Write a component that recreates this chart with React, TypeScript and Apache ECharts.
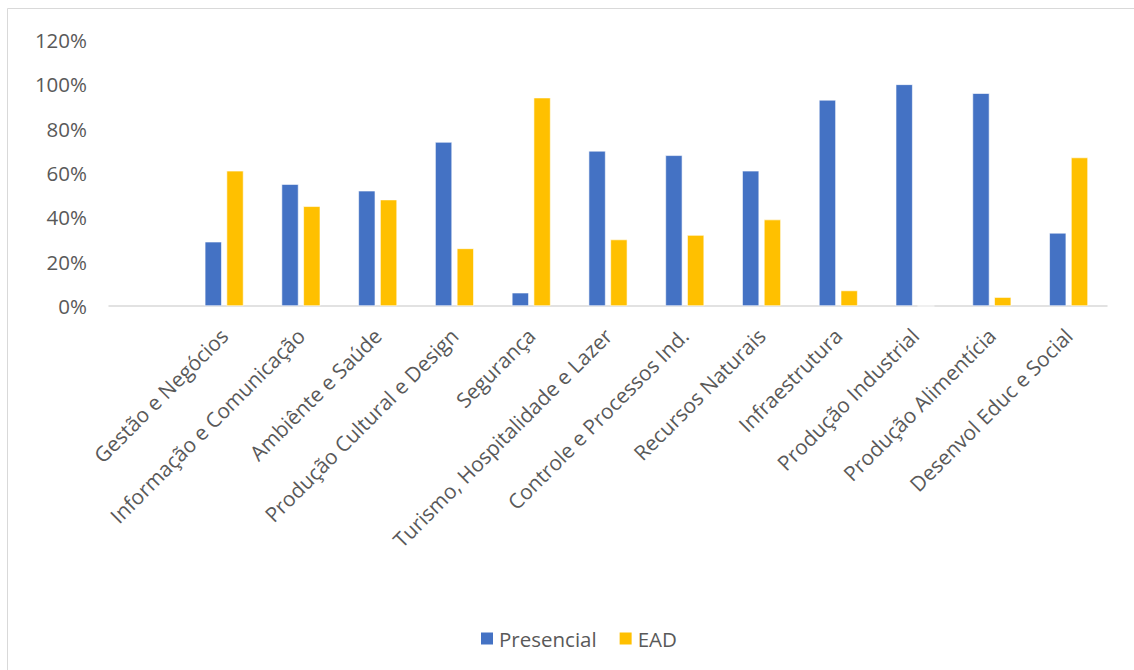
import React, { useEffect, useRef } from "react";
import * as echarts from "echarts";

const categories = [
  "",
  "Gestão e Negócios",
  "Informação e Comunicação",
  "Ambiênte e Saúde",
  "Produção Cultural e Design",
  "Segurança",
  "Turismo, Hospitalidade e Lazer",
  "Controle e Processos Ind.",
  "Recursos Naturais",
  "Infraestrutura",
  "Produção Industrial",
  "Produção Alimentícia",
  "Desenvol Educ e Social",
];

const presencial = [null, 0.29, 0.55, 0.52, 0.74, 0.06, 0.7, 0.68, 0.61, 0.93, 1.0, 0.96, 0.33];
const ead = [null, 0.61, 0.45, 0.48, 0.26, 0.94, 0.3, 0.32, 0.39, 0.07, 0, 0.04, 0.67];

const FONT = "'Open Sans', 'DejaVu Sans', sans-serif";
const TEXT = "#595959";

export default function App() {
  const ref = useRef<HTMLDivElement>(null);
  useEffect(() => {
    if (!ref.current) return;
    const chart = echarts.init(ref.current, undefined, { renderer: "svg" });
    chart.setOption({
      animation: false,
      backgroundColor: "#ffffff",
      textStyle: { fontFamily: FONT },
      graphic: [
        {
          type: "rect",
          shape: { x: 7.5, y: 8.5, width: 1140, height: 680 },
          style: { fill: "none", stroke: "#d9d9d9", lineWidth: 1 },
          silent: true,
        },
      ],
      grid: { left: 109, right: 27, top: 40, bottom: 364, containLabel: false },
      legend: {
        data: ["Presencial", "EAD"],
        bottom: 16,
        left: 474,
        icon: "rect",
        itemWidth: 14,
        itemHeight: 14,
        itemGap: 21,
        textStyle: { fontSize: 20.5, color: TEXT, fontFamily: FONT },
      },
      xAxis: {
        type: "category",
        data: categories,
        axisLine: { show: true, lineStyle: { color: "#d9d9d9", width: 1.5 } },
        axisTick: { show: false },
        axisLabel: {
          interval: 0,
          rotate: 45,
          fontSize: 20.8,
          color: TEXT,
          fontFamily: FONT,
          margin: 26,
        },
      },
      yAxis: {
        type: "value",
        min: 0,
        max: 1.2,
        interval: 0.2,
        splitLine: { show: false },
        axisLine: { show: false },
        axisTick: { show: false },
        axisLabel: {
          fontSize: 20.5,
          color: TEXT,
          fontFamily: FONT,
          margin: 22,
          formatter: (v: number) => Math.round(v * 100) + "%",
        },
      },
      series: [
        {
          name: "Presencial",
          type: "bar",
          data: presencial,
          barWidth: 17,
          barGap: "28%",
          itemStyle: { color: "#4472C4", borderColor: "#ffffff", borderWidth: 0.6 },
        },
        {
          name: "EAD",
          type: "bar",
          data: ead,
          barWidth: 17,
          barGap: "28%",
          itemStyle: { color: "#FFC000", borderColor: "#ffffff", borderWidth: 0.6 },
        },
      ],
    });
    return () => chart.dispose();
  }, []);
  return (
    <div
      ref={ref}
      style={{ position: "fixed", left: 0, top: 0, width: 1134, height: 670 }}
    />
  );
}
